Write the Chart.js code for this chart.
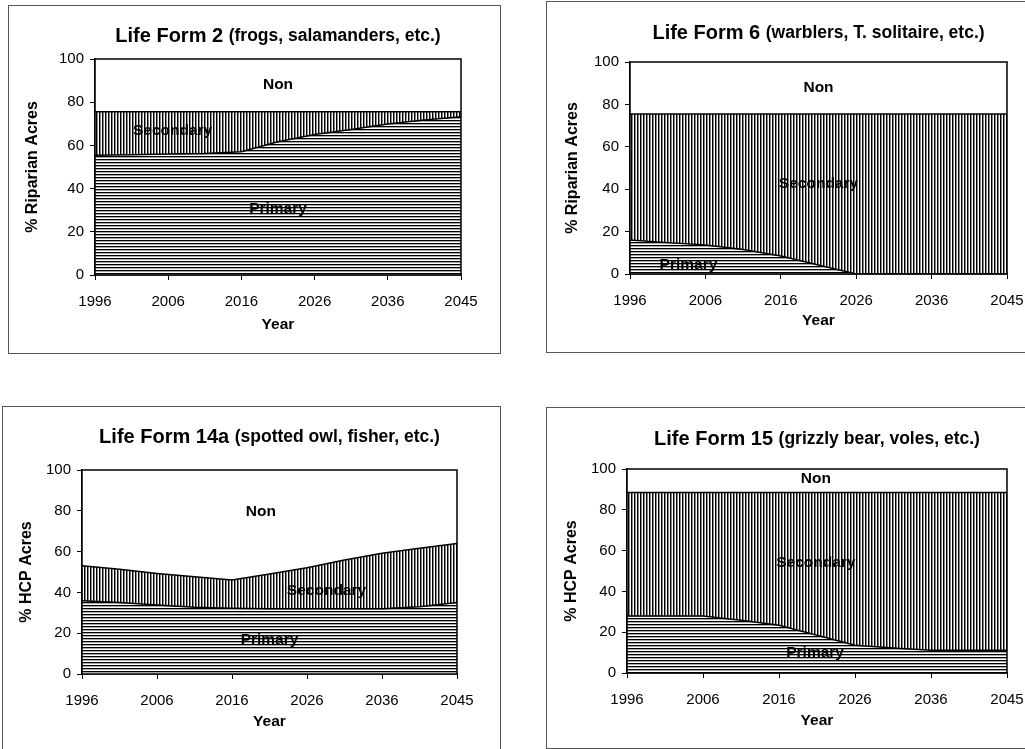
<!DOCTYPE html>
<html>
<head>
<meta charset="utf-8">
<title>Life Form habitat, 1996-2045</title>
<script src="https://cdn.jsdelivr.net/npm/chart.js@4.4.1/dist/chart.umd.min.js"></script>
<style>
  html, body { margin: 0; padding: 0; background: #fff; }
  body { position: relative; width: 1025px; height: 749px; overflow: hidden; }
  .panel { position: absolute; box-sizing: border-box; border: 1px solid #555; background: #fff; }
  .panel canvas { display: block; }
</style>
</head>
<body>
<div class="panel"><canvas id="lf2"></canvas></div>
<div class="panel"><canvas id="lf6"></canvas></div>
<div class="panel"><canvas id="lf14a"></canvas></div>
<div class="panel"><canvas id="lf15"></canvas></div>
<script>
// categories (every 5 years, last step is 4)
const years = ['1996', '2001', '2006', '2011', '2016', '2021', '2026', '2031', '2036', '2041', '2045'];
const tickYears = ['1996', '2006', '2016', '2026', '2036', '2045'];
const yTicks = [0, 20, 40, 60, 80, 100];

// Life Form 2 - % riparian acres
const lf2Primary = [55.4, 55.7, 56.0, 56.3, 57.1, 61.7, 65.0, 67.4, 69.9, 71.8, 73.3];
const lf2Secondary = [20.2, 19.9, 19.6, 19.3, 18.5, 13.9, 10.6, 8.2, 5.7, 3.8, 2.3];
const lf2Non = [24.4, 24.4, 24.4, 24.4, 24.4, 24.4, 24.4, 24.4, 24.4, 24.4, 24.4];

// Life Form 6 - % riparian acres
const lf6Primary = [16.0, 14.8, 13.7, 11.6, 8.5, 4.2, 0, 0, 0, 0, 0];
const lf6Secondary = [59.5, 60.7, 61.8, 63.9, 67.0, 71.3, 75.5, 75.5, 75.5, 75.5, 75.5];
const lf6Non = [24.5, 24.5, 24.5, 24.5, 24.5, 24.5, 24.5, 24.5, 24.5, 24.5, 24.5];

// Life Form 14a - % HCP acres
const lf14aPrimary = [35.9, 35.0, 33.8, 32.7, 32.2, 32.0, 32.0, 32.0, 32.0, 33.0, 35.0];
const lf14aSecondary = [17.2, 16.3, 15.5, 15.0, 13.9, 17.0, 20.1, 23.9, 27.2, 28.6, 29.0];
const lf14aNon = [46.9, 48.7, 50.7, 52.3, 53.9, 51.0, 47.9, 44.1, 40.8, 38.4, 36.0];

// Life Form 15 - % HCP acres
const lf15Primary = [28.0, 28.0, 28.0, 25.9, 23.4, 18.5, 13.6, 12.3, 11.1, 11.1, 11.1];
const lf15Secondary = [60.5, 60.5, 60.5, 62.6, 65.1, 70.0, 74.9, 76.2, 77.4, 77.4, 77.4];
const lf15Non = [11.5, 11.5, 11.5, 11.5, 11.5, 11.5, 11.5, 11.5, 11.5, 11.5, 11.5];

const FONT = '"Liberation Sans", Arial, Helvetica, sans-serif';
Chart.defaults.font.family = FONT;
Chart.defaults.color = '#000';

// page layout: frame box [left, top, width, height], plot area [left, top, right, bottom]
const panels = [
    {
        id: 'lf2', box: [8, 5, 493, 349], plot: [95, 59, 461, 275],
        yTitleX: 33, yearY: 325, titleY: 36,
        name: 'Life Form 2', note: '(frogs, salamanders, etc.)', yTitle: '% Riparian Acres',
        series: [lf2Primary, lf2Secondary, lf2Non],
        tags: [['Non', 5, 88.3], ['Secondary', 2.12, 66.7], ['Primary', 5, 30.9]],
    },
    {
        id: 'lf6', box: [546, 1, 500, 352], plot: [630, 62, 1007, 274],
        yTitleX: 573, yearY: 321, titleY: 33,
        name: 'Life Form 6', note: '(warblers, T. solitaire, etc.)', yTitle: '% Riparian Acres',
        series: [lf6Primary, lf6Secondary, lf6Non],
        tags: [['Non', 5, 88], ['Secondary', 5, 42.5], ['Primary', 1.55, 4.6]],
    },
    {
        id: 'lf14a', box: [2, 406, 499, 350], plot: [82, 470, 457, 674],
        yTitleX: 27, yearY: 722, titleY: 437,
        name: 'Life Form 14a', note: '(spotted owl, fisher, etc.)', yTitle: '% HCP Acres',
        series: [lf14aPrimary, lf14aSecondary, lf14aNon],
        tags: [['Non', 4.77, 79.6], ['Secondary', 6.52, 40.8], ['Primary', 5, 16.7]],
    },
    {
        id: 'lf15', box: [546, 407, 500, 342], plot: [627, 469, 1007, 673],
        yTitleX: 572, yearY: 721, titleY: 439,
        name: 'Life Form 15', note: '(grizzly bear, voles, etc.)', yTitle: '% HCP Acres',
        series: [lf15Primary, lf15Secondary, lf15Non],
        tags: [['Non', 4.97, 95], ['Secondary', 4.97, 54], ['Primary', 4.95, 10]],
    },
];

// 3px line hatch; a grey second pixel thickens the lines a bit like the scan
function hatch(ctx, vertical, mid) {
    const tile = document.createElement('canvas');
    tile.width = 3;
    tile.height = 3;
    const t = tile.getContext('2d');
    const shades = ['#000', mid, '#fff'];
    shades.forEach((c, i) => {
        t.fillStyle = c;
        if (vertical) {
            t.fillRect(i, 0, 1, 3);
        } else {
            t.fillRect(0, i, 3, 1);
        }
    });
    return ctx.createPattern(tile, 'repeat');
}

const panelDecor = {
    id: 'panelDecor',
    afterDraw(chart, args, opts) {
        const { ctx, chartArea: a, scales: { x, y } } = chart;
        ctx.save();
        ctx.strokeStyle = '#000';
        ctx.lineWidth = 1.5;
        ctx.strokeRect(a.left, a.top, a.right - a.left, a.bottom - a.top);

        ctx.fillStyle = '#000';
        ctx.textAlign = 'center';
        ctx.textBaseline = 'middle';
        ctx.font = 'bold 15.5px ' + FONT;
        opts.tags.forEach(([text, xi, yv]) => {
            ctx.fillText(text, x.getPixelForValue(xi), y.getPixelForValue(yv));
        });

        // two-size title, centred over the plot
        const big = 'bold 20px ' + FONT;
        const small = 'bold 17.5px ' + FONT;
        ctx.font = big;
        const w1 = ctx.measureText(opts.name + ' ').width;
        ctx.font = small;
        const w2 = ctx.measureText(opts.note).width;
        const tx = (a.left + a.right) / 2 - (w1 + w2) / 2;
        ctx.textAlign = 'left';
        ctx.font = big;
        ctx.fillText(opts.name, tx, opts.titleY);
        ctx.font = small;
        ctx.fillText(opts.note, tx + w1, opts.titleY);
        ctx.restore();
    },
};

function buildPanel(p) {
    const canvas = document.getElementById(p.id);
    const wrap = canvas.parentNode;
    const [bx, by, bw, bh] = p.box;
    wrap.style.left = bx + 'px';
    wrap.style.top = by + 'px';
    wrap.style.width = bw + 'px';
    wrap.style.height = bh + 'px';

    const W = bw - 2;
    const H = bh - 2;
    const ox = bx + 1;
    const oy = by + 1;
    canvas.width = W;
    canvas.height = H;
    canvas.style.width = W + 'px';
    canvas.style.height = H + 'px';

    const [L, T, R, B] = p.plot;
    const yTitleHalf = 16 * 1.2 / 2;
    const padLeft = p.yTitleX - ox - yTitleHalf;
    const yWidth = L - ox - padLeft;
    const padBottom = H - (p.yearY - oy) - 9;
    const xHeight = (H - padBottom) - (B - oy);

    const ctx = canvas.getContext('2d');
    const [primary, secondary, non] = p.series;
    const line = { borderColor: '#000', borderWidth: 1.5, pointRadius: 0, tension: 0 };

    return new Chart(canvas, {
        type: 'line',
        data: {
            labels: years,
            datasets: [
                { label: 'Primary', data: primary, backgroundColor: hatch(ctx, false, '#aaa'), fill: 'origin', ...line },
                { label: 'Secondary', data: secondary, backgroundColor: hatch(ctx, true, '#888'), fill: '-1', ...line },
                { label: 'Non', data: non, backgroundColor: '#fff', fill: '-1', ...line, borderWidth: 0 },
            ],
        },
        options: {
            responsive: false,
            animation: false,
            devicePixelRatio: 1,
            layout: {
                padding: { left: padLeft, top: T - oy, right: W - (R - ox), bottom: padBottom },
            },
            scales: {
                x: {
                    offset: false,
                    afterFit: (s) => { s.height = xHeight; },
                    grid: {
                        drawOnChartArea: false,
                        drawTicks: true,
                        tickLength: 5,
                        color: (c) => (tickYears.includes(years[c.index]) ? '#000' : 'rgba(0,0,0,0)'),
                    },
                    border: { display: true, color: '#000', width: 1.5 },
                    ticks: {
                        autoSkip: false,
                        maxRotation: 0,
                        padding: 13,
                        font: { size: 15 },
                        callback: (v, i) => (tickYears.includes(years[i]) ? years[i] : ''),
                    },
                    title: { display: true, text: 'Year', padding: 0, font: { size: 15.5, weight: 'bold' } },
                },
                y: {
                    stacked: true,
                    min: yTicks[0],
                    max: yTicks[yTicks.length - 1],
                    afterFit: (s) => { s.width = yWidth; },
                    grid: { drawOnChartArea: false, drawTicks: true, tickLength: 5, color: '#000' },
                    border: { display: true, color: '#000', width: 1.5 },
                    ticks: { stepSize: 20, padding: 6, font: { size: 15 } },
                    title: { display: true, text: p.yTitle, padding: 0, font: { size: 16, weight: 'bold' } },
                },
            },
            plugins: {
                legend: { display: false },
                tooltip: { enabled: false },
                panelDecor: { tags: p.tags, name: p.name, note: p.note, titleY: p.titleY - oy },
            },
        },
        plugins: [panelDecor],
    });
}

panels.forEach(buildPanel);
</script>
</body>
</html>
